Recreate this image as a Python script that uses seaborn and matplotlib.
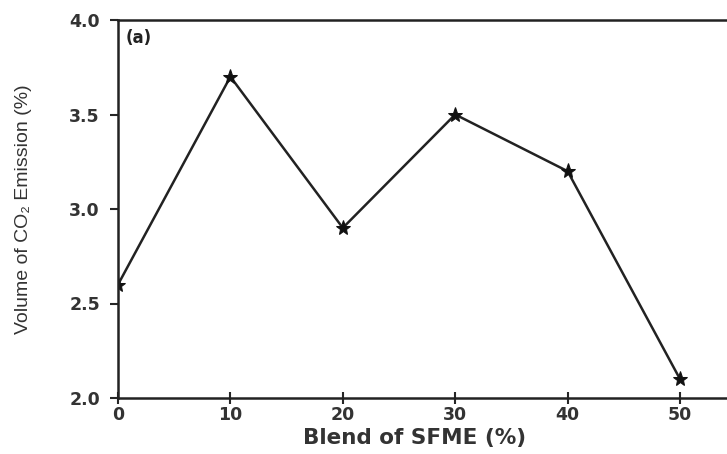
import matplotlib
matplotlib.use("Agg")
import matplotlib.pyplot as plt
import seaborn as sns
import pandas as pd

blend = [0, 10, 20, 30, 40, 50]
co2 = [2.6, 3.7, 2.9, 3.5, 3.2, 2.1]
xticks = [0, 10, 20, 30, 40, 50]
yticks = [2.0, 2.5, 3.0, 3.5, 4.0]

sns.set_theme(style="white")
plt.rcParams['font.family'] = ['Liberation Sans', 'DejaVu Sans']

df = pd.DataFrame({"blend": blend, "co2": co2})

fig = plt.figure(figsize=(7.27, 4.54), dpi=100)
W, H = 727, 454
left, right = 118, 118 + 55 * 11.24
top, bottom = 20, 398
ax = fig.add_axes([left / W, (H - bottom) / H, (right - left) / W, (bottom - top) / H])

sns.lineplot(data=df, x="blend", y="co2", ax=ax, color="#222222", linewidth=1.8,
             marker="*", markersize=11, markeredgecolor="#111111", markerfacecolor="#111111")

tickfont = dict(family="DejaVu Sans", weight="bold", size=12.5)
ax.set_xlim(0, 55)
ax.set_ylim(2.0, 4.0)
ax.set_xticks(xticks)
ax.set_yticks(yticks)
ax.set_xticklabels([str(v) for v in xticks], fontdict=tickfont, color="#333333")
ax.set_yticklabels([f"{v:.1f}" for v in yticks], fontdict=tickfont, color="#333333")
ax.tick_params(axis="x", direction="inout", length=8, width=1.5, bottom=True, pad=2)
ax.tick_params(axis="y", direction="out", length=6, width=1.5, left=True, pad=7)
for s in ax.spines.values():
    s.set_color("#222222")
    s.set_linewidth(1.8)

ax.set_xlabel("Blend of SFME (%)", family="DejaVu Sans", fontweight="bold", fontsize=15.5,
              color="#333333", labelpad=3)
ax.xaxis.set_label_coords(0.48, -0.08)
ax.set_ylabel("Volume of CO\u2082 Emission (%)", family=["Liberation Sans", "DejaVu Sans"],
              fontsize=14, color="#333333")
ax.yaxis.set_label_coords(-0.139, 0.5)
ax.text(0.012, 0.975, "(a)", transform=ax.transAxes, family="DejaVu Sans", fontweight="bold",
        fontsize=12, color="#222222", va="top", ha="left")

fig.savefig("out.png", dpi=100)
